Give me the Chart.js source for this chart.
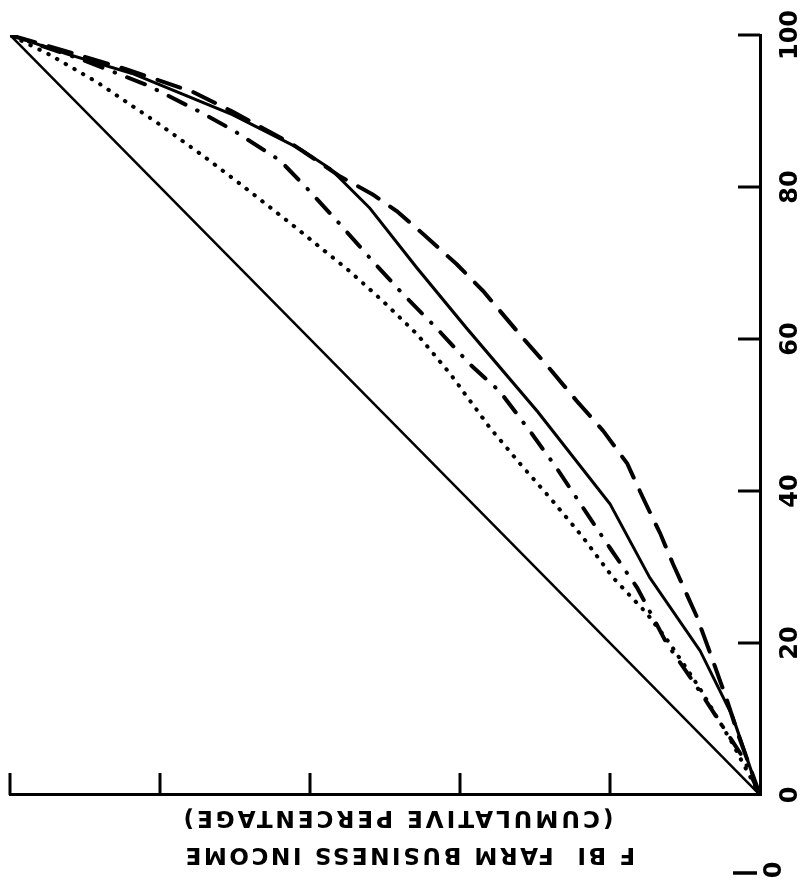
<!DOCTYPE html>
<html>
<head>
<meta charset="utf-8">
<script src="https://cdn.jsdelivr.net/npm/chart.js@4.4.1/dist/chart.umd.min.js"></script>
<style>
  html, body { margin: 0; padding: 0; background: #fff; }
  #page { position: relative; width: 800px; height: 882px; overflow: hidden; background: #fff; }
  /* the scanned figure is turned a quarter turn, so the chart is drawn upright and rotated */
  #turn { position: absolute; left: 0; top: 0; width: 882px; height: 800px;
          transform-origin: 0 0; transform: translateY(882px) rotate(-90deg); }
</style>
</head>
<body>
<div id="page"><div id="turn"><canvas id="lorenzChart" width="882" height="800"></canvas></div></div>
<script>
// x = cumulative % of farms, y = cumulative % of farm business income
const tickValues = [0, 20, 40, 60, 80, 100];
const titleLines = ['F BI  FARM BUSINESS INCOME', '(CUMULATIVE PERCENTAGE)'];

const equalFarms  = [0, 100];
const equalIncome = [0, 100];

const dottedFarms  = [0, 7, 14, 19.9, 23.9, 28.6, 33.9, 39.1, 43.6, 48.3, 55.4, 60.6, 65.0, 68.9, 74.5, 79.4, 83.7, 88.2, 93.8, 97.4, 100];
const dottedIncome = [0, 3.8, 8.0, 12.0, 15.1, 19.6, 23.6, 28.0, 32.0, 36.0, 41.3, 45.7, 50.3, 54.7, 61.7, 68.0, 73.7, 80.0, 88.4, 94.7, 100];

const dashDotFarms  = [0, 5.0, 8.9, 14.2, 19.9, 27.3, 32.5, 37.8, 43.0, 47.9, 53.1, 56.7, 61.4, 65.9, 70.2, 75.1, 79.4, 83.5, 87.5, 89.9, 93.4, 96.8, 100];
const dashDotIncome = [0, 2.3, 4.9, 8.4, 12.4, 16.4, 20.0, 23.6, 27.1, 30.7, 34.7, 38.7, 43.1, 47.6, 51.6, 56.0, 60.0, 64.0, 70.3, 74.7, 81.7, 90.5, 100];

const solidFarms  = [0, 2.4, 10.2, 19.0, 28.6, 38.3, 50.5, 61.4, 69.3, 77.2, 82.4, 85.0, 89.5, 94.9, 97.5, 100];
const solidIncome = [0, 0.9, 3.6, 8.0, 14.7, 20.0, 29.7, 39.1, 45.7, 52.0, 57.3, 61.3, 70.3, 83.6, 92.4, 100];

const dashedFarms  = [0, 8.5, 12.5, 17.7, 23.4, 30.4, 34.4, 39.1, 43.6, 47.9, 51.8, 57.1, 60.1, 66.3, 69.8, 73.8, 76.8, 79.0, 81.4, 85.6, 89.9, 92.5, 95.5, 98, 100];
const dashedIncome = [0, 3.1, 4.4, 6.3, 8.4, 11.6, 13.3, 15.6, 17.7, 20.9, 24.4, 28.9, 31.6, 36.9, 40.4, 44.9, 48.4, 51.6, 56.0, 62.3, 70.3, 75.6, 84.5, 93, 100];

function toPoints(xs, ys) {
    return xs.map((x, i) => ({ x: x, y: ys[i] }));
}

// tick marks point into the plot, like the drawing
const inwardTicks = {
    id: 'inwardTicks',
    afterDraw(chart) {
        const { ctx, chartArea, scales } = chart;
        ctx.save();
        ctx.strokeStyle = '#000';
        ctx.lineWidth = 3;
        tickValues.forEach(v => {
            if (v === 0) return;
            const px = scales.x.getPixelForValue(v);
            ctx.beginPath();
            ctx.moveTo(px, chartArea.bottom);
            ctx.lineTo(px, chartArea.bottom - 22);
            ctx.stroke();
            const py = scales.y.getPixelForValue(v);
            ctx.beginPath();
            ctx.moveTo(chartArea.left, py);
            ctx.lineTo(chartArea.left + 22, py);
            ctx.stroke();
        });
        ctx.restore();
    }
};

// two-line axis title with wide lettering, plus the stray mark in the corner
const sideTitle = {
    id: 'sideTitle',
    afterDraw(chart) {
        const ctx = chart.ctx;
        const spots = [{ x: 28, y: 409, w: 452 }, { x: 65, y: 397, w: 433 }];
        ctx.save();
        ctx.fillStyle = '#000';
        ctx.font = 'bold 23px "DejaVu Sans"';
        ctx.textAlign = 'center';
        ctx.textBaseline = 'middle';
        titleLines.forEach((line, i) => {
            const s = spots[i];
            ctx.letterSpacing = '0px';
            const w0 = ctx.measureText(line).width;
            ctx.letterSpacing = ((s.w - w0) / line.length) + 'px';
            ctx.save();
            ctx.translate(s.x, s.y);
            ctx.rotate(-Math.PI / 2);
            ctx.fillText(line, 0, 0);
            ctx.restore();
        });
        ctx.letterSpacing = '0px';
        ctx.font = 'bold 24px "DejaVu Sans"';
        ctx.fillText('0', 12, 775);
        ctx.strokeStyle = '#000';
        ctx.lineWidth = 3.5;
        ctx.beginPath();
        ctx.moveTo(9, 733);
        ctx.lineTo(9, 757);
        ctx.stroke();
        ctx.restore();
    }
};

const ctx = document.getElementById('lorenzChart');

new Chart(ctx, {
    type: 'scatter',
    data: {
        datasets: [
            {
                label: 'Equal distribution',
                data: toPoints(equalFarms, equalIncome),
                borderColor: '#000',
                borderWidth: 2.5
            },
            {
                label: 'Dotted',
                data: toPoints(dottedFarms, dottedIncome),
                borderColor: '#000',
                borderWidth: 4,
                borderCapStyle: 'round',
                borderDash: [0.5, 9.5]
            },
            {
                label: 'Dash-dot',
                data: toPoints(dashDotFarms, dashDotIncome),
                borderColor: '#000',
                borderWidth: 4,
                borderCapStyle: 'round',
                borderDash: [19, 13, 0.5, 13]
            },
            {
                label: 'Solid',
                data: toPoints(solidFarms, solidIncome),
                borderColor: '#000',
                borderWidth: 3
            },
            {
                label: 'Dashed',
                data: toPoints(dashedFarms, dashedIncome),
                borderColor: '#000',
                borderWidth: 4,
                borderCapStyle: 'round',
                borderDash: [24, 14]
            }
        ]
    },
    options: {
        responsive: false,
        animation: false,
        devicePixelRatio: 1,
        showLine: true,
        elements: {
            point: { radius: 0, hoverRadius: 0 },
            line: { tension: 0, fill: false }
        },
        layout: { padding: { left: 0, right: 35, top: 10, bottom: 0 } },
        scales: {
            x: {
                type: 'linear',
                min: 0,
                max: 100,
                afterFit: scale => { scale.height = 40; },
                afterBuildTicks: scale => { scale.ticks = tickValues.map(v => ({ value: v })); },
                ticks: {
                    color: '#000',
                    maxRotation: 0,
                    padding: 8,
                    font: { family: '"DejaVu Sans"', size: 24, weight: 'bold' }
                },
                grid: { display: false },
                border: { display: true, color: '#000', width: 3 }
            },
            y: {
                type: 'linear',
                min: 0,
                max: 100,
                afterFit: scale => { scale.width = 87; },
                ticks: { display: false },
                grid: { display: false },
                border: { display: true, color: '#000', width: 3 }
            }
        },
        plugins: {
            legend: { display: false },
            tooltip: { enabled: false }
        }
    },
    plugins: [inwardTicks, sideTitle]
});
</script>
</body>
</html>
